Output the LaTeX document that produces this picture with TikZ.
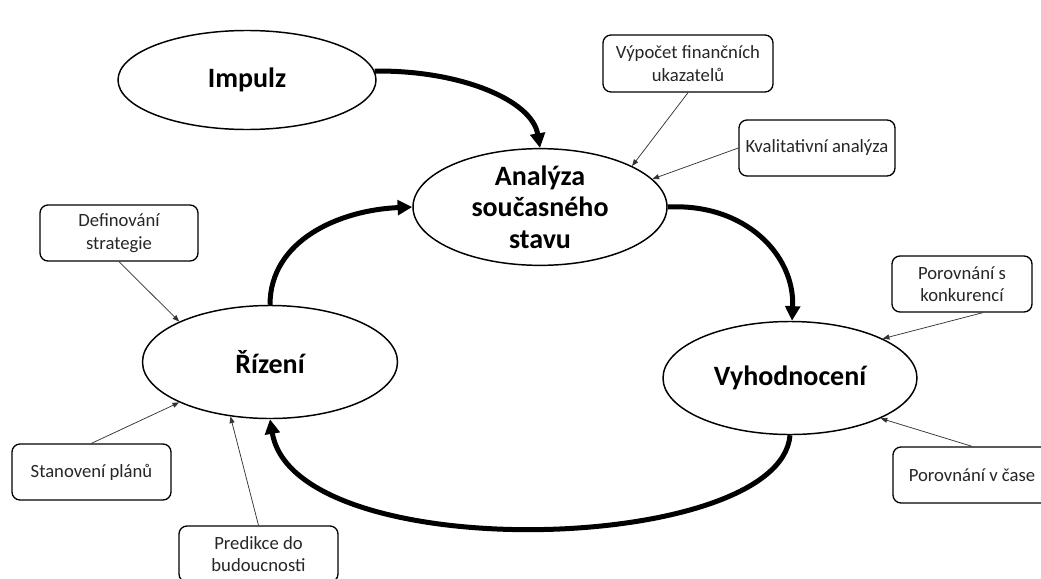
\documentclass[tikz,border=0pt]{standalone}
\usepackage{fontspec}
\setmainfont{Carlito}
\usetikzlibrary{arrows.meta,shapes.geometric}

\tikzset{
  bubble/.style={ellipse, draw=black, line width=1.1pt, fill=white, inner sep=0pt,
    align=center, font=\fontsize{21}{23.5}\selectfont\bfseries},
  note/.style={rectangle, rounded corners=6pt, draw=black, line width=1pt, fill=white,
    inner sep=0pt, align=center, text=black!85, font=\fontsize{14}{16.8}\selectfont},
  flow/.style={line width=3.75pt, -{Triangle[length=11pt,width=11pt]}},
  hint/.style={line width=0.55pt, draw=black!80, -{Triangle[length=5pt,width=3.8pt]}}
}

\begin{document}
\begin{tikzpicture}[x=0.75pt,y=-0.75pt]
  \useasboundingbox (0,0) rectangle (1041,578);
  \clip (0,0) rectangle (1041,578);
  \fill[white] (0,0) rectangle (1041,578);

  % main cycle
  \node[bubble, minimum width=193.5pt, minimum height=74.25pt] (imp) at (247,80) {Impulz};
  \node[bubble, minimum width=190.5pt, minimum height=82.5pt] (ana) at (540,207) {Analýza\\současného\\stavu};
  \node[bubble, minimum width=191.25pt, minimum height=84.75pt] (riz) at (270,362) {Řízení};
  \node[bubble, minimum width=190.5pt, minimum height=84.75pt] (vyh) at (790,378) {Vyhodnocení};

  % activities
  \node[note, minimum width=127.5pt, minimum height=42.75pt] (vyp) at (688,63.5) {Výpočet finančních\\ukazatelů};
  \node[note, minimum width=117pt, minimum height=42pt] (kva) at (817,148) {Kvalitativní analýza};
  \node[note, minimum width=105pt, minimum height=42pt] (kon) at (962,284) {Porovnání s\\konkurencí};
  \node[note, minimum width=118.5pt, minimum height=42pt] (cas) at (972,475) {Porovnání v čase};
  \node[note, minimum width=118.5pt, minimum height=42pt] (def) at (119,233) {Definování\\strategie};
  \node[note, minimum width=119.25pt, minimum height=42pt] (sta) at (91.5,472) {Stanovení plánů};
  \node[note, minimum width=119.25pt, minimum height=42pt] (pre) at (258.5,554) {Predikce do\\budoucnosti};

  % thick cycle arrows
  \draw[flow] (imp.4) .. controls (460,70) and (532,100) .. (ana.north);
  \draw[flow] (riz.north) .. controls (270,240) and (340,210) .. (ana.west);
  \draw[flow] (ana.east) .. controls (745,203) and (795,255) .. (vyh.88);
  \draw[flow] (vyh.south) .. controls (780,555) and (295,568) .. (riz.south);

  % thin arrows from activities
  \draw[hint] (vyp.south) -- (ana.24);
  \draw[hint] (kva.west) -- (ana.14);
  \draw[hint] (kon.-54.5) -- (vyh.23);
  \draw[hint] (cas.north) -- (vyh.-24);
  \draw[hint] (def.south) -- (riz.156);
  \draw[hint] (sta.north) -- (riz.204);
  \draw[hint] (pre.north) -- (riz.234);
\end{tikzpicture}
\end{document}
